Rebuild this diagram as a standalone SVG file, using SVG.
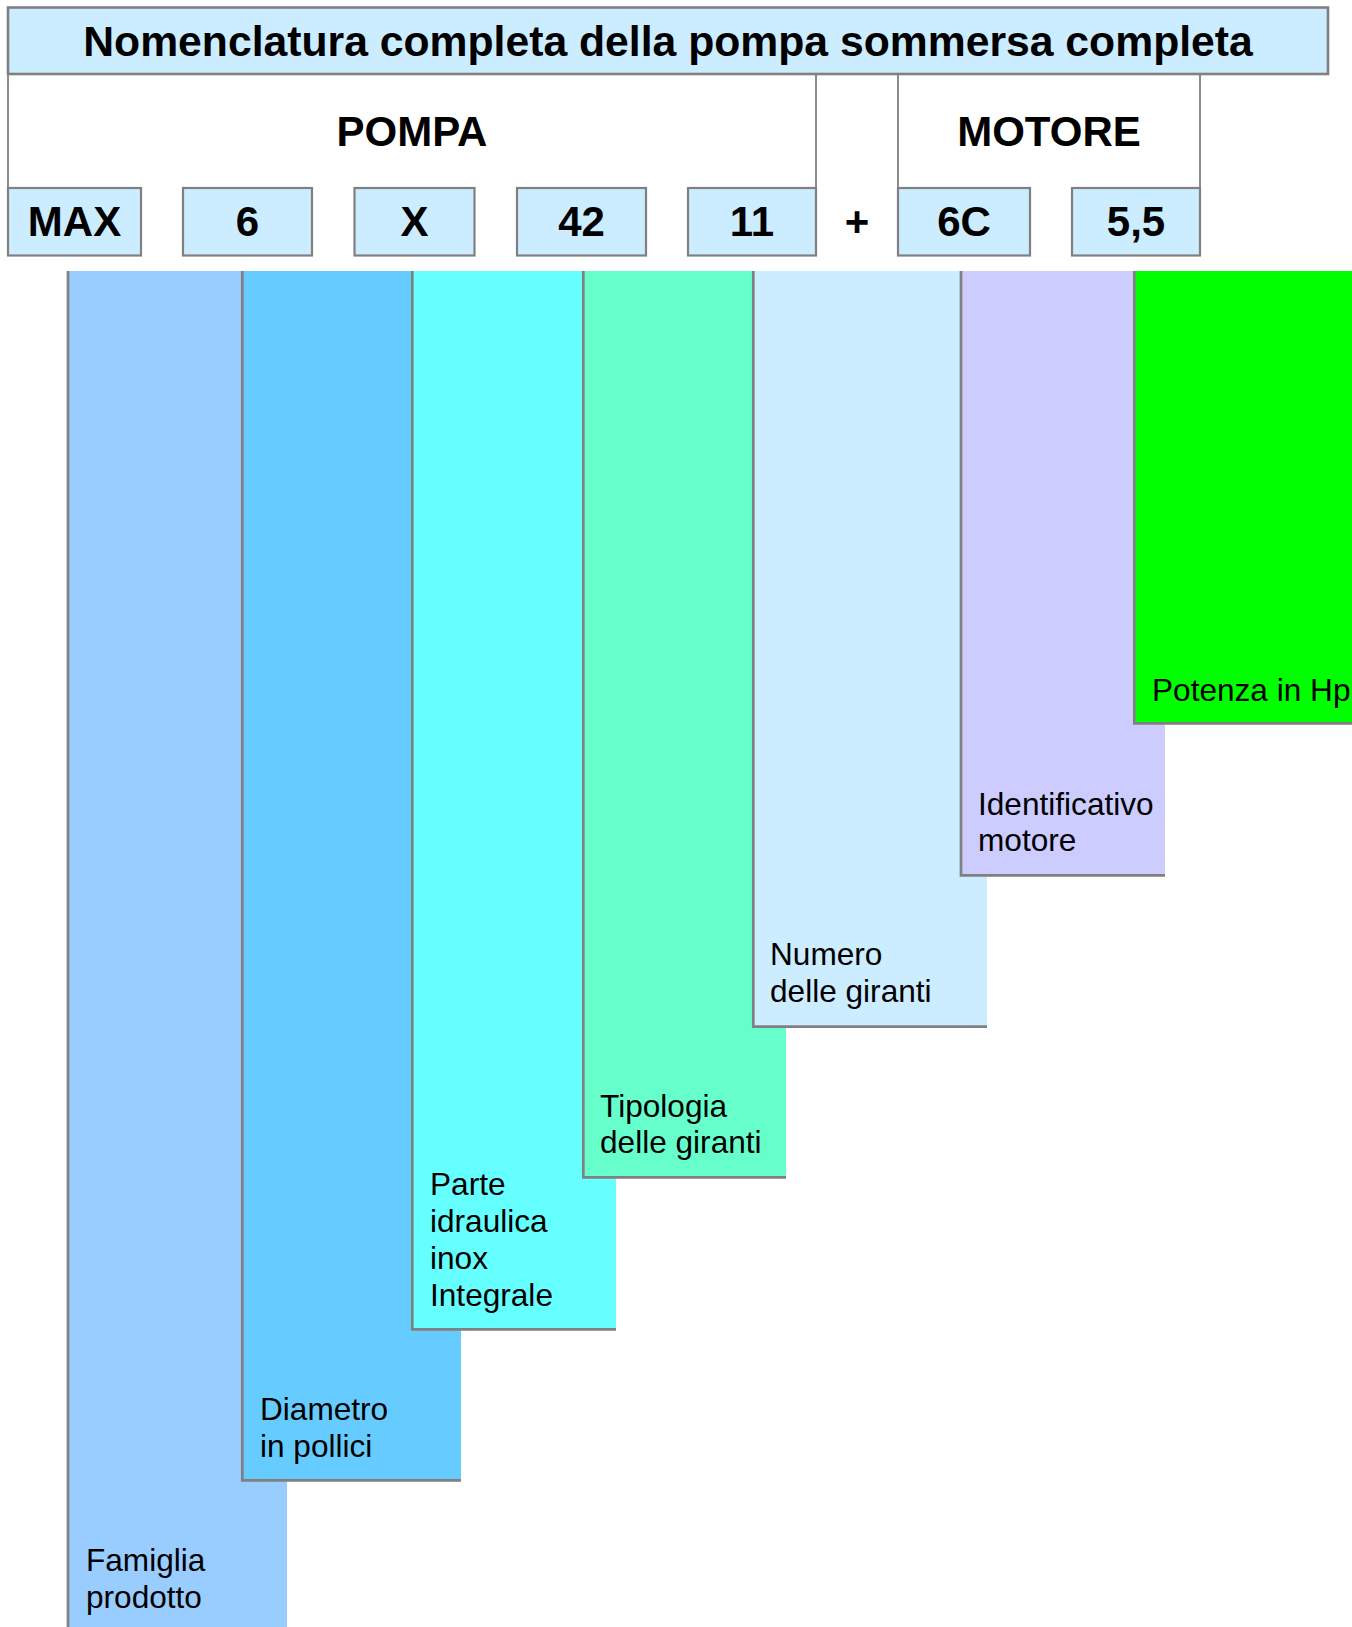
<svg xmlns="http://www.w3.org/2000/svg" width="1352" height="1627" viewBox="0 0 1352 1627">
<style>
.hd{font-family:"Liberation Sans",Arial,sans-serif;font-weight:bold;font-size:42px;fill:#000;text-anchor:middle}
.lb{font-family:"Liberation Sans",Arial,sans-serif;font-size:31.6px;fill:#000}
.box{fill:#CCECFF;stroke:#808080;stroke-width:2.2}
.frame{fill:none;stroke:#808080;stroke-width:1.8}
.edge{fill:none;stroke:#808080;stroke-width:2.7}
</style>
<rect width="1352" height="1627" fill="#fff"/>
<g id="title">
<rect x="8" y="7.5" width="1320" height="66.5" fill="#CCECFF" stroke="#808080" stroke-width="2.6"/>
<text class="hd" x="668" y="56" style="font-size:42.7px">Nomenclatura completa della pompa sommersa completa</text>
</g>
<g id="pompa">
<path class="frame" d="M8 74V188M816 74V188"/>
<text class="hd" x="412" y="145.7">POMPA</text>
</g>
<g id="motore">
<path class="frame" d="M898 74V188M1200 74V188"/>
<text class="hd" x="1049" y="145.7">MOTORE</text>
</g>
<g id="code-max"><rect class="box" x="8" y="188" width="133" height="67.5"/><text class="hd" x="74.5" y="235.7">MAX</text></g>
<g id="code-6"><rect class="box" x="183" y="188" width="129" height="67.5"/><text class="hd" x="247.5" y="235.7">6</text></g>
<g id="code-x"><rect class="box" x="354.5" y="188" width="120" height="67.5"/><text class="hd" x="414.5" y="235.7">X</text></g>
<g id="code-42"><rect class="box" x="517" y="188" width="129" height="67.5"/><text class="hd" x="581.5" y="235.7">42</text></g>
<g id="code-11"><rect class="box" x="688" y="188" width="128" height="67.5"/><text class="hd" x="752" y="235.7">11</text></g>
<g id="plus"><text class="hd" x="857" y="235.7">+</text></g>
<g id="code-6c"><rect class="box" x="898" y="188" width="132" height="67.5"/><text class="hd" x="964" y="235.7">6C</text></g>
<g id="code-55"><rect class="box" x="1072" y="188" width="128" height="67.5"/><text class="hd" x="1136" y="235.7">5,5</text></g>

<g id="col-famiglia">
<rect x="68" y="271" width="219" height="1370" fill="#99CCFF"/>
<path class="edge" d="M68 271V1640"/>
<text class="lb" x="86" y="1571">Famiglia</text>
<text class="lb" x="86" y="1607.5">prodotto</text>
</g>
<g id="col-diametro">
<rect x="242" y="271" width="219" height="1209" fill="#66CCFF"/>
<path class="edge" d="M242.3 271V1480.3H461"/>
<text class="lb" x="260" y="1420">Diametro</text>
<text class="lb" x="260" y="1456.5">in pollici</text>
</g>
<g id="col-parte">
<rect x="412" y="271" width="204" height="1058" fill="#66FFFF"/>
<path class="edge" d="M412.3 271V1329.3H616"/>
<text class="lb" x="430" y="1194.8">Parte</text>
<text class="lb" x="430" y="1231.5">idraulica</text>
<text class="lb" x="430" y="1268.8">inox</text>
<text class="lb" x="430" y="1306">Integrale</text>
</g>
<g id="col-tipologia">
<rect x="583" y="271" width="203" height="906" fill="#66FFCC"/>
<path class="edge" d="M583.3 271V1177.3H786"/>
<text class="lb" x="600" y="1117.2">Tipologia</text>
<text class="lb" x="600" y="1153.2">delle giranti</text>
</g>
<g id="col-numero">
<rect x="753" y="271" width="234" height="755.5" fill="#CCECFF"/>
<path class="edge" d="M753.3 271V1026.7H987"/>
<text class="lb" x="770" y="964.8">Numero</text>
<text class="lb" x="770" y="1001.5">delle giranti</text>
</g>
<g id="col-identificativo">
<rect x="961" y="271" width="204" height="604" fill="#CCCCFF"/>
<path class="edge" d="M961 271V875.3H1165"/>
<text class="lb" x="978" y="814.8">Identificativo</text>
<text class="lb" x="978" y="851.2">motore</text>
</g>
<g id="col-potenza">
<rect x="1134" y="271" width="220" height="452" fill="#00FF00"/>
<path class="edge" d="M1134.3 271V723.3H1354"/>
<text class="lb" x="1152" y="700.5">Potenza in Hp</text>
</g>
<g id="connectors"/>
</svg>
